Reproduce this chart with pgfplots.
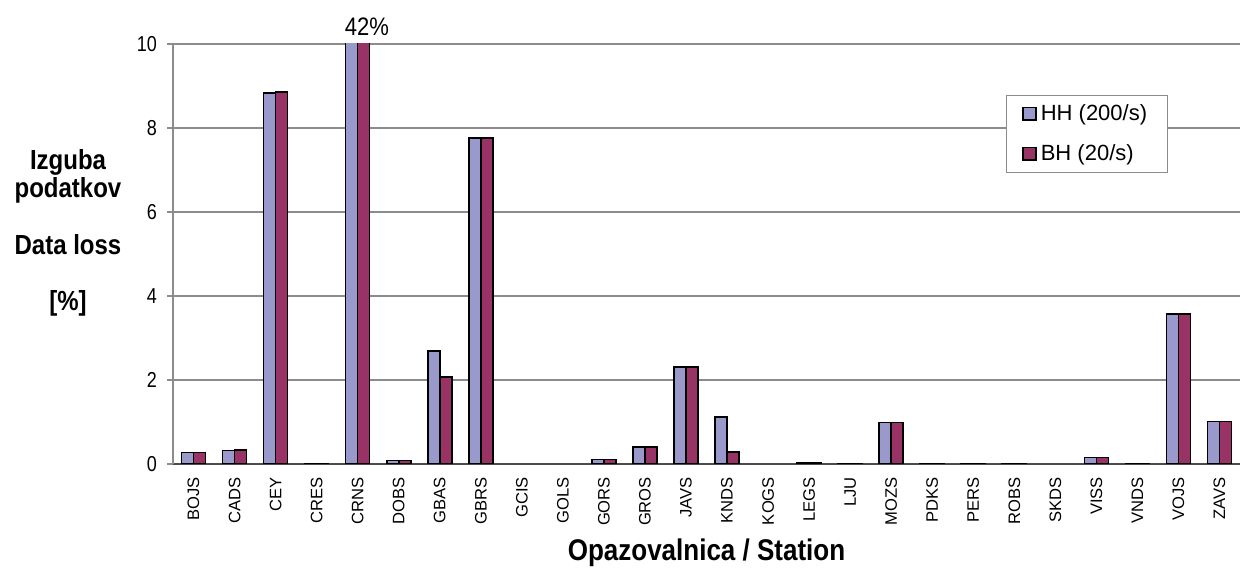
\documentclass[border=0pt]{standalone}
\usepackage{pgfplots}
\pgfplotsset{compat=1.18}
\usepackage{fontspec}
\setmainfont{Liberation Sans}

\definecolor{hhcol}{HTML}{9999CC}
\definecolor{bhcol}{HTML}{993366}
\definecolor{gridcol}{HTML}{8C8C8C}

\begin{document}
\begin{tikzpicture}
\path[use as bounding box] (-86.5pt,-56pt) rectangle (534pt,232pt);
\begin{axis}[
  at={(0,0)}, anchor=south west,
  scale only axis, width=533.5pt, height=210pt,
  ybar=0pt, bar width=6pt,
  xmin=-0.5, xmax=25.5, ymin=0, ymax=10,
  ytick={0,2,...,10},
  xtick={0,...,25},
  xticklabels={BOJS,CADS,CEY,CRES,CRNS,DOBS,GBAS,GBRS,GCIS,GOLS,GORS,GROS,JAVS,KNDS,KOGS,LEGS,LJU,MOZS,PDKS,PERS,ROBS,SKDS,VISS,VNDS,VOJS,ZAVS},
  xticklabel style={rotate=90, anchor=east, font=\fontsize{8.3}{9}\selectfont},
  yticklabel style={font=\fontsize{9}{10}\selectfont, yscale=1.2, xshift=-1.5pt},
  /pgf/number format/assume math mode=true,
  axis x line=bottom, axis y line=left,
  y axis line style={gridcol,-, line width=0.8pt},
  x axis line style={black!70,-, line width=0.8pt},
  x tick style={draw=none},
  y tick style={gridcol, line width=0.8pt},
  tick align=outside, major tick length=3pt,
  ymajorgrids, grid style={gridcol, line width=0.6pt},
  legend style={at={(0.7807,0.8786)}, anchor=north west, draw=gridcol,
    font=\fontsize{11}{12}\selectfont, row sep=6.5pt, inner xsep=8pt, inner ysep=2.5pt},
  legend cell align=left,
  legend image code/.code={\draw[#1,draw=black,line width=0.8pt] (0pt,-3.2pt) rectangle (6.4pt,3.2pt);},
]
\addplot[fill=hhcol, draw=black, line width=0.8pt] coordinates {
  (0,0.27) (1,0.32) (2,8.83) (3,0.01) (4,42) (5,0.08) (6,2.69) (7,7.76)
  (10,0.11) (11,0.41) (12,2.31) (13,1.12) (15,0.03) (16,0.01) (17,0.99)
  (18,0.01) (19,0.01) (20,0.01) (22,0.15) (23,0.01) (24,3.57) (25,1.01)
};
\addplot[fill=bhcol, draw=black, line width=0.8pt] coordinates {
  (0,0.27) (1,0.33) (2,8.85) (3,0.01) (4,42) (5,0.08) (6,2.07) (7,7.76)
  (10,0.11) (11,0.41) (12,2.31) (13,0.29) (15,0.03) (16,0.01) (17,0.99)
  (18,0.01) (19,0.01) (20,0.01) (22,0.15) (23,0.01) (24,3.57) (25,1.01)
};
\legend{HH (200/s), BH (20/s)}
\end{axis}
\node[font=\fontsize{11}{12}\selectfont, yscale=1.15] at (97pt,218.5pt) {42\%};
\node[font=\bfseries\fontsize{12}{14}\selectfont, yscale=1.15] at (-52.5pt,151pt) {Izguba};
\node[font=\bfseries\fontsize{12}{14}\selectfont, yscale=1.15] at (-52.5pt,137pt) {podatkov};
\node[font=\bfseries\fontsize{12}{14}\selectfont, yscale=1.15] at (-52.5pt,109.5pt) {Data loss};
\node[font=\bfseries\fontsize{12}{14}\selectfont, yscale=1.15] at (-52.5pt,80.5pt) {[\%]};
\node[font=\bfseries\fontsize{13}{15}\selectfont, yscale=1.15] at (266.75pt,-44.5pt) {Opazovalnica / Station};
\end{tikzpicture}
\end{document}
